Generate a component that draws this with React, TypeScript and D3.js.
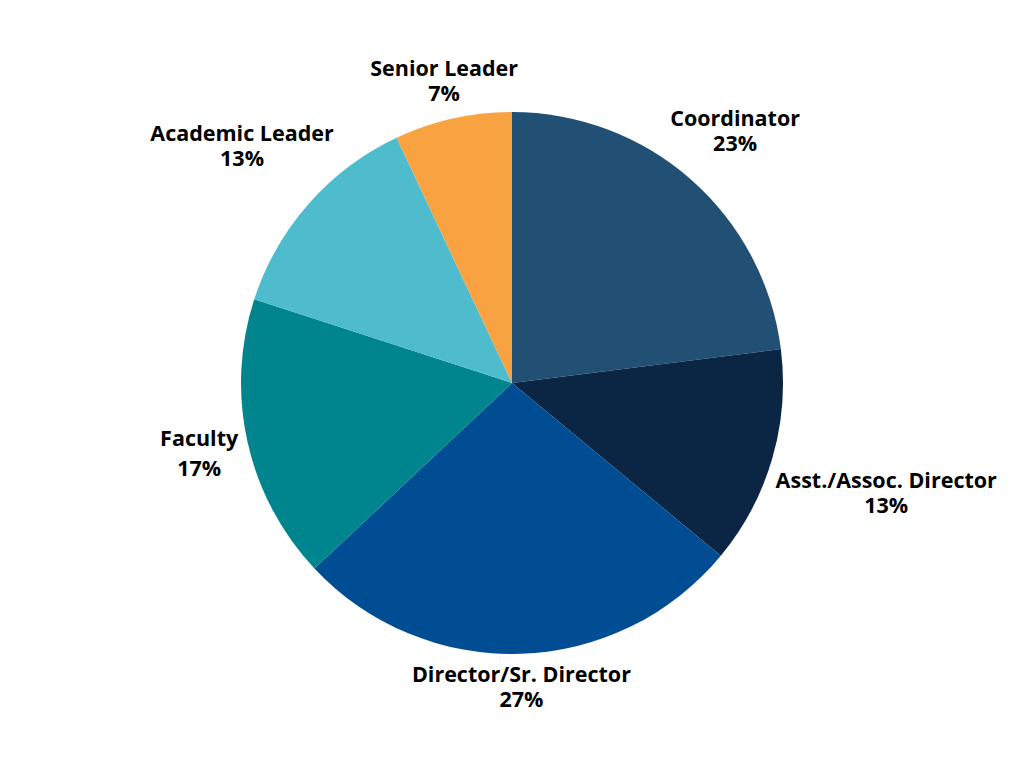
import React, { useEffect, useRef } from 'react';
import * as d3 from 'd3';

// Slices clockwise from 12 o'clock
const categories = [
  'Coordinator',
  'Asst./Assoc. Director',
  'Director/Sr. Director',
  'Faculty',
  'Academic Leader',
  'Senior Leader',
];
const shares = [23, 13, 27, 17, 13, 7];
const sliceColors = ['#225075', '#0b2645', '#004d93', '#00858e', '#4ebccd', '#f9a242'];

const width = 1024;
const height = 768;
const cx = 512;
const cy = 383;
const radius = 271;
const labelDist = 276; // distance from centre to the nearest point of each label box
const fontSize = 21.5;

const App: React.FC = () => {
  const svgRef = useRef<SVGSVGElement>(null);

  useEffect(() => {
    if (!svgRef.current) return;
    const svg = d3.select(svgRef.current);
    svg.selectAll('*').remove();

    const pie = d3.pie<number>().sort(null).value(d => d);
    const arcs = pie(shares);
    const arc = d3.arc<d3.PieArcDatum<number>>().innerRadius(0).outerRadius(radius);

    const g = svg.append('g').attr('transform', `translate(${cx}, ${cy})`);

    g.selectAll('path')
      .data(arcs)
      .enter()
      .append('path')
      .attr('d', arc)
      .attr('fill', (_, i) => sliceColors[i]);

    arcs.forEach((a, i) => {
      const mid = (a.startAngle + a.endAngle) / 2;
      const sx = Math.sin(mid);
      const sy = -Math.cos(mid);
      const lineStep = categories[i] === 'Faculty' ? 30 : 25;

      const label = g.append('text')
        .attr('text-anchor', 'middle')
        .attr('font-family', '"Open Sans", sans-serif')
        .attr('font-weight', 700)
        .attr('font-size', fontSize)
        .attr('fill', '#000');

      label.append('tspan').attr('x', 0).attr('y', 0).text(categories[i]);
      label.append('tspan').attr('x', 0).attr('y', lineStep).text(`${shares[i]}%`);

      const bb = (label.node() as SVGTextElement).getBBox();
      const ocx = bb.x + bb.width / 2;
      const ocy = bb.y + bb.height / 2;
      const hw = bb.width / 2;
      const hh = bb.height / 2;

      // push the box out along the slice's mid angle until its nearest point hits labelDist
      const nearest = (d: number) => {
        const bx = sx * d;
        const by = sy * d;
        const nx = Math.max(bx - hw, Math.min(0, bx + hw));
        const ny = Math.max(by - hh, Math.min(0, by + hh));
        return Math.hypot(nx, ny);
      };
      let lo = 0;
      let hi = 800;
      for (let k = 0; k < 50; k++) {
        const m = (lo + hi) / 2;
        if (nearest(m) < labelDist) lo = m; else hi = m;
      }
      const d = (lo + hi) / 2;
      label.attr('transform', `translate(${sx * d - ocx}, ${sy * d - ocy})`);
    });
  }, []);

  return (
    <svg
      ref={svgRef}
      width={width}
      height={height}
      style={{ display: 'block', position: 'absolute', left: 0, top: 0, background: '#fff' }}
    />
  );
};

export default App;
